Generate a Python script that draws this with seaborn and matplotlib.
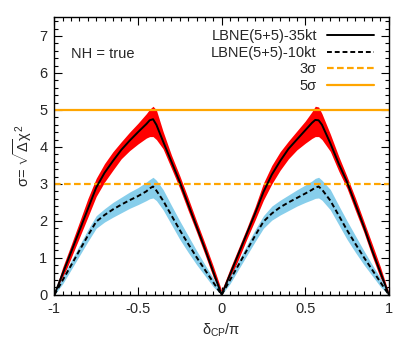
import numpy as np
import pandas as pd
import matplotlib
matplotlib.use("Agg")
import matplotlib.pyplot as plt
from matplotlib.lines import Line2D
from matplotlib.ticker import MultipleLocator
import seaborn as sns

# ---------------- data ----------------
delta_cp = [-1, -0.95, -0.9, -0.85, -0.8, -0.75, -0.7, -0.65, -0.6, -0.55, -0.5, -0.45, -0.43, -0.41, -0.39,
            -0.35, -0.3, -0.25, -0.2, -0.15, -0.1, -0.05, 0,
            0.05, 0.1, 0.15, 0.2, 0.25, 0.3, 0.35, 0.4, 0.45, 0.5, 0.54, 0.56, 0.58, 0.6,
            0.65, 0.7, 0.75, 0.8, 0.85, 0.9, 0.95, 1]

sig35 = [0, 0.58, 1.16, 1.74, 2.32, 2.9, 3.3, 3.62, 3.92, 4.17, 4.4, 4.62, 4.72, 4.75, 4.6,
         4.15, 3.6, 3.05, 2.45, 1.85, 1.25, 0.62, 0,
         0.55, 1.1, 1.65, 2.2, 2.78, 3.25, 3.62, 3.95, 4.2, 4.45, 4.65, 4.73, 4.72, 4.6,
         4.1, 3.55, 3.05, 2.45, 1.85, 1.2, 0.6, 0]
sig35_hi = [0.05, 0.75, 1.35, 1.97, 2.6, 3.15, 3.55, 3.87, 4.14, 4.4, 4.64, 4.9, 5.02, 5.1, 5.0,
            4.42, 3.78, 3.22, 2.62, 2.0, 1.4, 0.78, 0.12,
            0.7, 1.25, 1.8, 2.38, 3.02, 3.5, 3.87, 4.16, 4.43, 4.7, 4.95, 5.1, 5.08, 4.9,
            4.35, 3.75, 3.2, 2.62, 2.0, 1.38, 0.75, 0.05]
sig35_lo = [0, 0.45, 1.0, 1.55, 2.1, 2.66, 3.05, 3.37, 3.68, 3.9, 4.08, 4.24, 4.28, 4.28, 4.2,
            3.95, 3.42, 2.88, 2.28, 1.7, 1.1, 0.48, 0,
            0.4, 0.95, 1.5, 2.02, 2.56, 3.0, 3.37, 3.68, 3.92, 4.1, 4.23, 4.28, 4.28, 4.2,
            3.88, 3.35, 2.88, 2.28, 1.7, 1.05, 0.45, 0]

sig10 = [0, 0.4, 0.8, 1.2, 1.6, 1.98, 2.16, 2.31, 2.44, 2.56, 2.67, 2.8, 2.88, 2.93, 2.82,
         2.55, 2.15, 1.75, 1.38, 1.02, 0.68, 0.34, 0,
         0.4, 0.8, 1.2, 1.6, 1.98, 2.2, 2.37, 2.5, 2.62, 2.74, 2.84, 2.9, 2.93, 2.85,
         2.55, 2.15, 1.75, 1.38, 1.02, 0.68, 0.34, 0]
sig10_hi = [0.05, 0.5, 0.92, 1.34, 1.76, 2.14, 2.33, 2.5, 2.64, 2.78, 2.9, 3.05, 3.12, 3.18, 3.1,
            2.85, 2.42, 2.0, 1.6, 1.2, 0.82, 0.45, 0.08,
            0.5, 0.92, 1.34, 1.76, 2.14, 2.4, 2.56, 2.7, 2.84, 2.97, 3.08, 3.15, 3.18, 3.1,
            2.85, 2.42, 2.0, 1.6, 1.2, 0.82, 0.45, 0.05]
sig10_lo = [0, 0.3, 0.68, 1.06, 1.44, 1.8, 1.97, 2.1, 2.22, 2.34, 2.44, 2.55, 2.6, 2.62, 2.55,
            2.3, 1.9, 1.5, 1.15, 0.82, 0.52, 0.22, 0,
            0.3, 0.68, 1.06, 1.44, 1.8, 2.02, 2.16, 2.28, 2.4, 2.5, 2.57, 2.61, 2.62, 2.56,
            2.3, 1.9, 1.5, 1.15, 0.82, 0.52, 0.22, 0]

sigma_levels = [3, 5]
legend_labels = ["LBNE(5+5)-35kt", "LBNE(5+5)-10kt", "3σ", "5σ"]
x_ticks = [-1, -0.5, 0, 0.5, 1]
x_ticklabels = ["-1", "-0.5", "0", "0.5", "1"]
y_ticks = [0, 1, 2, 3, 4, 5, 6, 7]

# ---------------- style ----------------
sns.set_style("ticks")
plt.rcParams["font.family"] = ["Liberation Sans", "DejaVu Sans"]
plt.rcParams["mathtext.fontset"] = "custom"
plt.rcParams["mathtext.rm"] = "Liberation Sans"
plt.rcParams["mathtext.it"] = "Liberation Sans"
plt.rcParams["mathtext.bf"] = "Liberation Sans:bold"
plt.rcParams["font.size"] = 10.5

df = pd.DataFrame({"x": delta_cp, "s35": sig35, "s35_hi": sig35_hi, "s35_lo": sig35_lo,
                   "s10": sig10, "s10_hi": sig10_hi, "s10_lo": sig10_lo})

fig = plt.figure(figsize=(4.15, 3.57), dpi=100)
ax = fig.add_axes([0.131, 0.174, 0.806, 0.777])

ax.fill_between(df["x"], df["s35_lo"], df["s35_hi"], color="#ff0000", lw=0, zorder=1)
ax.fill_between(df["x"], df["s10_lo"], df["s10_hi"], color="#87ceeb", lw=0, zorder=1)

orange = "#ffa500"
ax.axhline(sigma_levels[0], color=orange, lw=1.6, linestyle=(0, (3.0, 1.5)), zorder=2)
ax.axhline(sigma_levels[1], color=orange, lw=1.6, zorder=2)

sns.lineplot(data=df, x="x", y="s35", ax=ax, color="black", lw=1.4, zorder=3)
sns.lineplot(data=df, x="x", y="s10", ax=ax, color="black", lw=1.4,
             linestyle=(0, (2.5, 1.5)), zorder=3)

ax.set_xlim(-1, 1)
ax.set_ylim(0, 7.5)
ax.set_xticks(x_ticks)
ax.set_xticklabels(x_ticklabels)
ax.set_yticks(y_ticks)
ax.xaxis.set_minor_locator(MultipleLocator(0.05))
ax.yaxis.set_minor_locator(MultipleLocator(0.2))
ax.tick_params(which="both", direction="in", top=True, right=True, color="black")
ax.tick_params(which="major", length=6, width=0.8, labelsize=10.5, pad=5)
ax.tick_params(which="minor", length=3, width=0.8)
for s in ax.spines.values():
    s.set_linewidth(1.0)
    s.set_color("black")

ax.set_xlabel(r"$\delta_{\rm CP}/\pi$", fontsize=10.5, labelpad=4)
ax.set_ylabel(r"$\sigma$= $\sqrt{\Delta}\chi^2$", fontsize=10.5, labelpad=4)

ax.text(0.05, 0.87, "NH = true", transform=ax.transAxes, fontsize=10.5, va="center", ha="left")

handles = [Line2D([], [], color="black", lw=1.4),
           Line2D([], [], color="black", lw=1.4, linestyle=(0, (2.5, 1.5))),
           Line2D([], [], color=orange, lw=1.6, linestyle=(0, (3.0, 1.5))),
           Line2D([], [], color=orange, lw=1.6)]
leg = ax.legend(handles, legend_labels, loc="upper right", markerfirst=False, frameon=False,
                handlelength=3.2, handletextpad=0.7, labelspacing=0.18, fontsize=10.5,
                borderaxespad=0.3, bbox_to_anchor=(0.985, 0.995))

fig.savefig("out.png", dpi=100)
